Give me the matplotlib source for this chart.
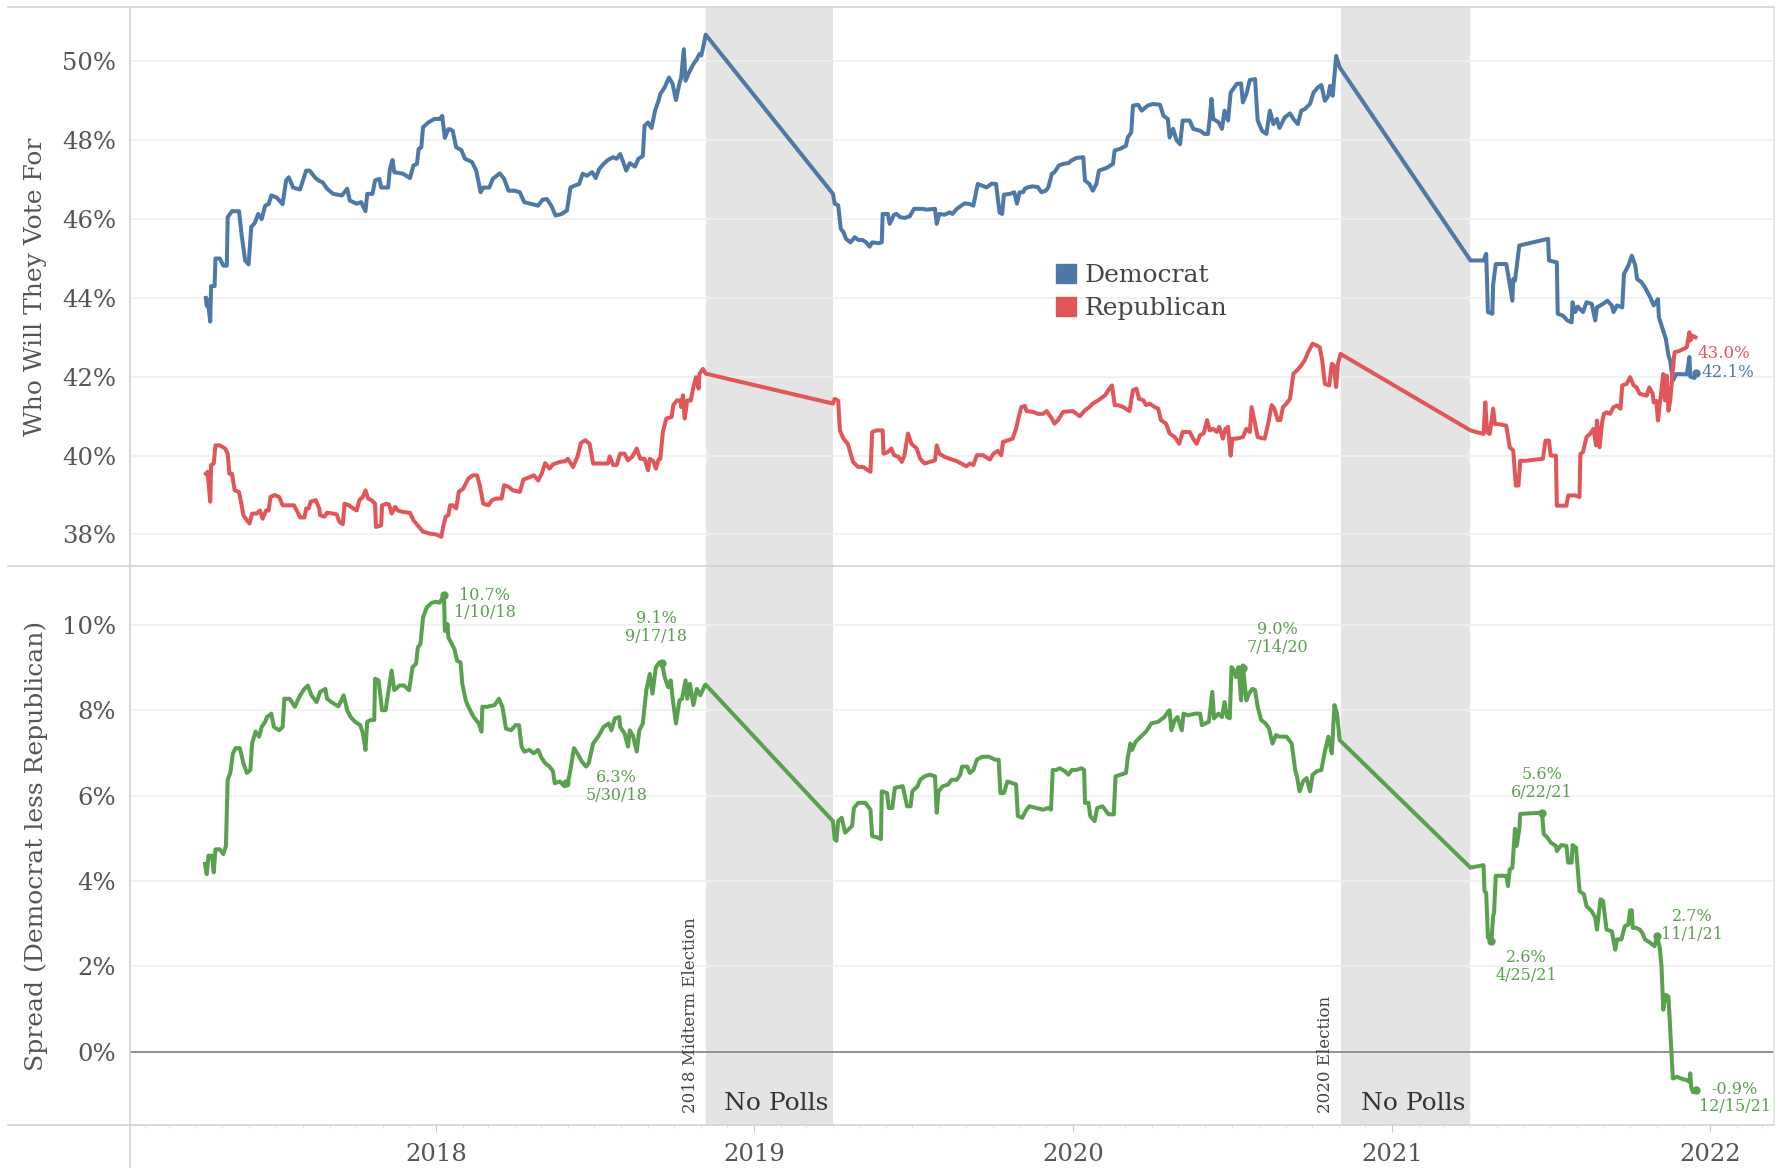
import matplotlib
matplotlib.use("Agg")
import matplotlib.pyplot as plt
import matplotlib.dates as mdates
from matplotlib.lines import Line2D
from matplotlib.patches import Patch
import pandas as pd

# poll averages (date, percent)
dem_polls = [
    ("2017-04-12", 44.0), ("2017-04-13", 43.8), ("2017-04-14", 43.95), ("2017-04-17", 43.4), ("2017-04-18", 44.3),
    ("2017-04-22", 44.3), ("2017-04-23", 45.0), ("2017-04-28", 45.0), ("2017-05-02", 44.82), ("2017-05-06", 44.82),
    ("2017-05-07", 46.05), ("2017-05-12", 46.2), ("2017-05-20", 46.2), ("2017-05-23", 45.6), ("2017-05-27", 44.95),
    ("2017-05-31", 44.85), ("2017-06-03", 45.8), ("2017-06-07", 45.9), ("2017-06-11", 46.13), ("2017-06-15", 46.0),
    ("2017-06-19", 46.34), ("2017-06-23", 46.38), ("2017-06-26", 46.6), ("2017-07-02", 46.55), ("2017-07-09", 46.38),
    ("2017-07-13", 46.98), ("2017-07-16", 47.06), ("2017-07-21", 46.8), ("2017-07-29", 46.75), ("2017-08-05", 47.23),
    ("2017-08-09", 47.23), ("2017-08-15", 47.06), ("2017-08-19", 46.98), ("2017-08-24", 46.93), ("2017-08-29", 46.77),
    ("2017-09-05", 46.64), ("2017-09-15", 46.6), ("2017-09-21", 46.77), ("2017-09-24", 46.47), ("2017-10-02", 46.39),
    ("2017-10-07", 46.43), ("2017-10-12", 46.2), ("2017-10-14", 46.64), ("2017-10-20", 46.64), ("2017-10-23", 46.98),
    ("2017-10-28", 47.02), ("2017-10-30", 46.8), ("2017-11-07", 46.8), ("2017-11-09", 47.27), ("2017-11-12", 47.5),
    ("2017-11-14", 47.19), ("2017-11-24", 47.15), ("2017-12-02", 47.04), ("2017-12-06", 47.36), ("2017-12-10", 47.4),
    ("2017-12-12", 47.78), ("2017-12-15", 47.82), ("2017-12-17", 48.33), ("2017-12-23", 48.45), ("2017-12-30", 48.54),
    ("2018-01-05", 48.54), ("2018-01-08", 48.62), ("2018-01-11", 48.06), ("2018-01-15", 48.28), ("2018-01-17", 48.28),
    ("2018-01-20", 48.24), ("2018-01-24", 47.82), ("2018-01-30", 47.75), ("2018-02-03", 47.53), ("2018-02-11", 47.45),
    ("2018-02-16", 47.23), ("2018-02-21", 46.68), ("2018-02-24", 46.8), ("2018-03-03", 46.8), ("2018-03-07", 47.02),
    ("2018-03-15", 47.16), ("2018-03-20", 47.02), ("2018-03-25", 46.72), ("2018-04-01", 46.72), ("2018-04-07", 46.68),
    ("2018-04-12", 46.43), ("2018-04-19", 46.39), ("2018-04-28", 46.34), ("2018-05-03", 46.49), ("2018-05-08", 46.51),
    ("2018-05-13", 46.34), ("2018-05-18", 46.09), ("2018-05-25", 46.13), ("2018-05-31", 46.22), ("2018-06-04", 46.8),
    ("2018-06-09", 46.85), ("2018-06-14", 46.89), ("2018-06-18", 47.15), ("2018-06-23", 47.1), ("2018-06-29", 47.19),
    ("2018-07-03", 47.04), ("2018-07-07", 47.27), ("2018-07-12", 47.4), ("2018-07-17", 47.5), ("2018-07-23", 47.57),
    ("2018-07-27", 47.53), ("2018-07-31", 47.65), ("2018-08-03", 47.48), ("2018-08-07", 47.23), ("2018-08-11", 47.42),
    ("2018-08-17", 47.33), ("2018-08-21", 47.53), ("2018-08-26", 47.6), ("2018-08-28", 48.37), ("2018-09-01", 48.45),
    ("2018-09-05", 48.31), ("2018-09-09", 48.75), ("2018-09-13", 49.0), ("2018-09-15", 49.17), ("2018-09-20", 49.34),
    ("2018-09-25", 49.59), ("2018-09-29", 49.44), ("2018-10-03", 49.02), ("2018-10-07", 49.44), ("2018-10-09", 49.59),
    ("2018-10-12", 50.31), ("2018-10-14", 49.51), ("2018-10-18", 49.72), ("2018-10-23", 49.93), ("2018-10-27", 50.06),
    ("2018-10-30", 50.19), ("2018-11-01", 50.15), ("2018-11-04", 50.44), ("2018-11-06", 50.68),
    ("2019-04-01", 46.64), ("2019-04-03", 46.39), ("2019-04-07", 46.35), ("2019-04-10", 45.75), ("2019-04-13", 45.67),
    ("2019-04-16", 45.5), ("2019-04-21", 45.41), ("2019-04-26", 45.54), ("2019-04-30", 45.47), ("2019-05-05", 45.47),
    ("2019-05-09", 45.41), ("2019-05-13", 45.3), ("2019-05-16", 45.41), ("2019-05-23", 45.39), ("2019-05-27", 45.41),
    ("2019-05-28", 46.13), ("2019-06-03", 46.13), ("2019-06-05", 45.88), ("2019-06-10", 46.11), ("2019-06-13", 46.13),
    ("2019-06-17", 46.05), ("2019-06-22", 46.03), ("2019-06-28", 46.07), ("2019-07-03", 46.26), ("2019-07-08", 46.26),
    ("2019-07-13", 46.26), ("2019-07-17", 46.24), ("2019-07-27", 46.26), ("2019-07-29", 45.88), ("2019-08-01", 46.13),
    ("2019-08-07", 46.11), ("2019-08-13", 46.17), ("2019-08-16", 46.13), ("2019-08-21", 46.26), ("2019-08-26", 46.34),
    ("2019-08-30", 46.4), ("2019-09-05", 46.38), ("2019-09-09", 46.34), ("2019-09-14", 46.89), ("2019-09-19", 46.85),
    ("2019-09-24", 46.8), ("2019-09-30", 46.9), ("2019-10-05", 46.89), ("2019-10-09", 46.17), ("2019-10-12", 46.13),
    ("2019-10-14", 46.62), ("2019-10-21", 46.64), ("2019-10-26", 46.68), ("2019-10-29", 46.39), ("2019-11-01", 46.68),
    ("2019-11-05", 46.68), ("2019-11-07", 46.77), ("2019-11-11", 46.81), ("2019-11-16", 46.83), ("2019-11-22", 46.81),
    ("2019-11-26", 46.68), ("2019-12-01", 46.72), ("2019-12-04", 46.81), ("2019-12-08", 47.15), ("2019-12-11", 47.19),
    ("2019-12-16", 47.36), ("2019-12-21", 47.4), ("2019-12-27", 47.42), ("2019-12-30", 47.48), ("2020-01-05", 47.55),
    ("2020-01-13", 47.57), ("2020-01-15", 46.98), ("2020-01-20", 46.89), ("2020-01-24", 46.72), ("2020-01-28", 46.89),
    ("2020-01-31", 47.23), ("2020-02-09", 47.3), ("2020-02-16", 47.4), ("2020-02-18", 47.74), ("2020-02-24", 47.78),
    ("2020-03-02", 47.86), ("2020-03-04", 48.07), ("2020-03-08", 48.2), ("2020-03-10", 48.88), ("2020-03-16", 48.9),
    ("2020-03-20", 48.75), ("2020-03-27", 48.88), ("2020-04-02", 48.92), ("2020-04-10", 48.9), ("2020-04-14", 48.62),
    ("2020-04-19", 48.54), ("2020-04-21", 48.07), ("2020-04-25", 48.29), ("2020-04-29", 48.0), ("2020-05-03", 47.9),
    ("2020-05-06", 48.5), ("2020-05-14", 48.5), ("2020-05-18", 48.29), ("2020-05-26", 48.24), ("2020-05-31", 48.16),
    ("2020-06-04", 48.16), ("2020-06-06", 48.54), ("2020-06-08", 49.05), ("2020-06-10", 48.54), ("2020-06-16", 48.46),
    ("2020-06-20", 48.29), ("2020-06-23", 48.75), ("2020-06-27", 48.5), ("2020-06-30", 49.21), ("2020-07-07", 49.43),
    ("2020-07-12", 49.44), ("2020-07-14", 48.96), ("2020-07-18", 49.17), ("2020-07-22", 49.53), ("2020-07-28", 49.55),
    ("2020-07-31", 48.5), ("2020-08-05", 48.24), ("2020-08-10", 48.16), ("2020-08-14", 48.75), ("2020-08-18", 48.41),
    ("2020-08-22", 48.54), ("2020-08-25", 48.31), ("2020-08-31", 48.58), ("2020-09-06", 48.68), ("2020-09-10", 48.54),
    ("2020-09-15", 48.41), ("2020-09-19", 48.75), ("2020-09-23", 48.79), ("2020-09-29", 48.92), ("2020-10-03", 49.21),
    ("2020-10-08", 49.34), ("2020-10-12", 49.4), ("2020-10-16", 49.0), ("2020-10-20", 49.13), ("2020-10-22", 49.38),
    ("2020-10-25", 49.13), ("2020-10-29", 50.14), ("2020-11-02", 49.85),
    ("2021-04-01", 44.95), ("2021-04-16", 44.95), ("2021-04-19", 45.12), ("2021-04-21", 43.64), ("2021-04-26", 43.6),
    ("2021-04-27", 44.35), ("2021-04-30", 44.86), ("2021-05-12", 44.86), ("2021-05-15", 44.48), ("2021-05-19", 43.93),
    ("2021-05-20", 44.48), ("2021-05-22", 44.44), ("2021-05-27", 45.33), ("2021-06-29", 45.5), ("2021-06-30", 44.95),
    ("2021-07-09", 44.9), ("2021-07-10", 43.6), ("2021-07-16", 43.55), ("2021-07-21", 43.43), ("2021-07-26", 43.38),
    ("2021-07-27", 43.89), ("2021-07-30", 43.64), ("2021-08-02", 43.78), ("2021-08-08", 43.64), ("2021-08-12", 43.89),
    ("2021-08-18", 43.85), ("2021-08-22", 43.43), ("2021-08-24", 43.76), ("2021-08-31", 43.85), ("2021-09-05", 43.93),
    ("2021-09-10", 43.81), ("2021-09-12", 43.64), ("2021-09-16", 43.81), ("2021-09-22", 43.76), ("2021-09-24", 44.61),
    ("2021-09-29", 44.82), ("2021-10-03", 45.07), ("2021-10-07", 44.82), ("2021-10-09", 44.48), ("2021-10-14", 44.4),
    ("2021-10-18", 44.27), ("2021-10-24", 44.02), ("2021-10-28", 43.81), ("2021-11-02", 43.97), ("2021-11-03", 43.51),
    ("2021-11-08", 43.17), ("2021-11-11", 42.96), ("2021-11-14", 42.54), ("2021-11-16", 42.41), ("2021-11-19", 41.9),
    ("2021-11-23", 42.07), ("2021-12-05", 42.06), ("2021-12-08", 42.5), ("2021-12-09", 42.0), ("2021-12-14", 41.97),
    ("2021-12-15", 42.1),
]

rep_polls = [
    ("2017-04-12", 39.54), ("2017-04-14", 39.59), ("2017-04-17", 38.83), ("2017-04-18", 39.76), ("2017-04-21", 39.8),
    ("2017-04-23", 40.26), ("2017-04-28", 40.26), ("2017-05-04", 40.18), ("2017-05-07", 40.05), ("2017-05-09", 39.54),
    ("2017-05-12", 39.54), ("2017-05-15", 39.12), ("2017-05-20", 39.08), ("2017-05-23", 38.74), ("2017-05-25", 38.49),
    ("2017-05-29", 38.36), ("2017-06-01", 38.28), ("2017-06-04", 38.53), ("2017-06-09", 38.53), ("2017-06-13", 38.61),
    ("2017-06-16", 38.4), ("2017-06-20", 38.61), ("2017-06-23", 38.61), ("2017-06-25", 38.95), ("2017-06-30", 39.0),
    ("2017-07-05", 38.95), ("2017-07-09", 38.74), ("2017-07-17", 38.74), ("2017-07-22", 38.74), ("2017-07-27", 38.53),
    ("2017-07-29", 38.43), ("2017-08-03", 38.43), ("2017-08-05", 38.66), ("2017-08-08", 38.66), ("2017-08-10", 38.83),
    ("2017-08-16", 38.87), ("2017-08-20", 38.66), ("2017-08-21", 38.49), ("2017-08-26", 38.45), ("2017-08-29", 38.55),
    ("2017-09-05", 38.53), ("2017-09-09", 38.51), ("2017-09-12", 38.32), ("2017-09-16", 38.26), ("2017-09-18", 38.78),
    ("2017-09-23", 38.74), ("2017-09-28", 38.66), ("2017-10-02", 38.61), ("2017-10-05", 38.87), ("2017-10-09", 38.95),
    ("2017-10-12", 39.12), ("2017-10-15", 38.91), ("2017-10-19", 38.87), ("2017-10-23", 38.78), ("2017-10-24", 38.19),
    ("2017-10-30", 38.23), ("2017-10-31", 38.74), ("2017-11-05", 38.78), ("2017-11-08", 38.76), ("2017-11-11", 38.53),
    ("2017-11-15", 38.7), ("2017-11-18", 38.61), ("2017-11-24", 38.57), ("2017-12-02", 38.55), ("2017-12-06", 38.36),
    ("2017-12-11", 38.23), ("2017-12-17", 38.07), ("2017-12-25", 38.02), ("2018-01-01", 38.0), ("2018-01-07", 37.94),
    ("2018-01-09", 38.19), ("2018-01-12", 38.45), ("2018-01-15", 38.49), ("2018-01-17", 38.74), ("2018-01-20", 38.74),
    ("2018-01-24", 38.66), ("2018-01-27", 39.08), ("2018-02-01", 39.16), ("2018-02-07", 39.42), ("2018-02-12", 39.5),
    ("2018-02-17", 39.5), ("2018-02-20", 39.25), ("2018-02-24", 38.78), ("2018-03-02", 38.74), ("2018-03-06", 38.87),
    ("2018-03-11", 38.91), ("2018-03-17", 38.91), ("2018-03-20", 39.25), ("2018-03-25", 39.21), ("2018-03-30", 39.12),
    ("2018-04-07", 39.08), ("2018-04-11", 39.39), ("2018-04-19", 39.46), ("2018-04-23", 39.5), ("2018-04-28", 39.37),
    ("2018-05-02", 39.54), ("2018-05-06", 39.81), ("2018-05-11", 39.67), ("2018-05-15", 39.78), ("2018-05-23", 39.84),
    ("2018-05-29", 39.86), ("2018-06-01", 39.92), ("2018-06-07", 39.71), ("2018-06-12", 39.97), ("2018-06-16", 40.32),
    ("2018-06-21", 40.39), ("2018-06-26", 40.3), ("2018-06-30", 39.8), ("2018-07-06", 39.8), ("2018-07-12", 39.8),
    ("2018-07-17", 39.8), ("2018-07-19", 39.98), ("2018-07-23", 39.76), ("2018-07-27", 39.76), ("2018-07-31", 40.05),
    ("2018-08-05", 40.05), ("2018-08-09", 39.88), ("2018-08-14", 39.98), ("2018-08-19", 40.18), ("2018-08-23", 39.92),
    ("2018-08-28", 39.92), ("2018-09-01", 39.63), ("2018-09-03", 39.92), ("2018-09-07", 39.86), ("2018-09-10", 39.67),
    ("2018-09-13", 39.9), ("2018-09-15", 39.92), ("2018-09-18", 40.6), ("2018-09-22", 40.94), ("2018-09-28", 40.98),
    ("2018-09-30", 41.28), ("2018-10-04", 41.4), ("2018-10-08", 41.4), ("2018-10-09", 41.23), ("2018-10-11", 41.53),
    ("2018-10-13", 40.94), ("2018-10-16", 41.4), ("2018-10-20", 41.4), ("2018-10-23", 41.74), ("2018-10-26", 41.99),
    ("2018-10-29", 41.7), ("2018-10-30", 42.08), ("2018-11-03", 42.2), ("2018-11-06", 42.08),
    ("2019-04-01", 41.32), ("2019-04-03", 41.44), ("2019-04-07", 41.39), ("2019-04-09", 40.64), ("2019-04-13", 40.43),
    ("2019-04-18", 40.3), ("2019-04-24", 39.84), ("2019-04-30", 39.71), ("2019-05-06", 39.71), ("2019-05-11", 39.63),
    ("2019-05-14", 39.59), ("2019-05-16", 40.6), ("2019-05-21", 40.64), ("2019-05-28", 40.64), ("2019-05-29", 40.05),
    ("2019-06-03", 40.09), ("2019-06-07", 40.18), ("2019-06-10", 40.01), ("2019-06-15", 39.97), ("2019-06-19", 39.84),
    ("2019-06-22", 40.01), ("2019-06-26", 40.56), ("2019-06-30", 40.3), ("2019-07-06", 40.18), ("2019-07-10", 39.92),
    ("2019-07-15", 39.8), ("2019-07-21", 39.84), ("2019-07-27", 39.88), ("2019-07-29", 40.26), ("2019-08-01", 40.05),
    ("2019-08-07", 39.97), ("2019-08-13", 39.92), ("2019-08-21", 39.86), ("2019-08-26", 39.8), ("2019-09-01", 39.73),
    ("2019-09-05", 39.8), ("2019-09-09", 39.76), ("2019-09-13", 40.01), ("2019-09-20", 40.01), ("2019-09-28", 39.9),
    ("2019-10-02", 40.05), ("2019-10-07", 40.12), ("2019-10-11", 40.01), ("2019-10-13", 40.35), ("2019-10-19", 40.39),
    ("2019-10-24", 40.43), ("2019-10-28", 40.69), ("2019-10-31", 40.98), ("2019-11-03", 41.23), ("2019-11-07", 41.26),
    ("2019-11-09", 41.13), ("2019-11-16", 41.11), ("2019-11-22", 41.06), ("2019-11-28", 41.06), ("2019-12-02", 41.13),
    ("2019-12-08", 40.94), ("2019-12-11", 40.81), ("2019-12-15", 40.9), ("2019-12-21", 41.11), ("2020-01-01", 41.13),
    ("2020-01-09", 41.0), ("2020-01-15", 41.15), ("2020-01-20", 41.23), ("2020-01-24", 41.32), ("2020-01-30", 41.4),
    ("2020-02-07", 41.53), ("2020-02-12", 41.7), ("2020-02-15", 41.78), ("2020-02-18", 41.28), ("2020-02-22", 41.28),
    ("2020-02-28", 41.23), ("2020-03-06", 41.13), ("2020-03-10", 41.66), ("2020-03-14", 41.7), ("2020-03-17", 41.44),
    ("2020-03-22", 41.4), ("2020-03-25", 41.28), ("2020-03-29", 41.32), ("2020-04-04", 41.23), ("2020-04-08", 41.19),
    ("2020-04-11", 40.9), ("2020-04-17", 40.81), ("2020-04-21", 40.56), ("2020-04-27", 40.47), ("2020-05-02", 40.3),
    ("2020-05-06", 40.6), ("2020-05-14", 40.6), ("2020-05-18", 40.43), ("2020-05-22", 40.3), ("2020-05-26", 40.52),
    ("2020-05-30", 40.56), ("2020-06-03", 40.9), ("2020-06-06", 40.64), ("2020-06-10", 40.68), ("2020-06-14", 40.6),
    ("2020-06-17", 40.73), ("2020-06-21", 40.43), ("2020-06-24", 40.68), ("2020-06-27", 40.73), ("2020-06-30", 40.0),
    ("2020-07-02", 40.43), ("2020-07-07", 40.43), ("2020-07-14", 40.47), ("2020-07-18", 40.68), ("2020-07-22", 40.6),
    ("2020-07-24", 41.23), ("2020-07-28", 40.81), ("2020-07-31", 40.47), ("2020-08-08", 40.43), ("2020-08-12", 40.81),
    ("2020-08-16", 41.28), ("2020-08-19", 41.2), ("2020-08-23", 40.9), ("2020-08-26", 40.9), ("2020-08-29", 41.23),
    ("2020-09-02", 41.32), ("2020-09-06", 41.44), ("2020-09-10", 42.08), ("2020-09-14", 42.16), ("2020-09-19", 42.29),
    ("2020-09-23", 42.42), ("2020-09-27", 42.63), ("2020-10-02", 42.84), ("2020-10-06", 42.8), ("2020-10-10", 42.75),
    ("2020-10-13", 42.42), ("2020-10-16", 41.82), ("2020-10-21", 41.78), ("2020-10-24", 42.33), ("2020-10-26", 42.3),
    ("2020-10-29", 41.74), ("2020-10-31", 42.33), ("2020-11-03", 42.58),
    ("2021-04-01", 40.64), ("2021-04-16", 40.55), ("2021-04-18", 41.35), ("2021-04-20", 40.6), ("2021-04-23", 40.55),
    ("2021-04-27", 41.19), ("2021-04-29", 40.8), ("2021-05-03", 40.8), ("2021-05-12", 40.76), ("2021-05-16", 40.21),
    ("2021-05-20", 40.13), ("2021-05-23", 39.24), ("2021-05-26", 39.24), ("2021-05-28", 39.87), ("2021-06-04", 39.87),
    ("2021-06-23", 39.92), ("2021-06-26", 40.38), ("2021-06-30", 40.38), ("2021-07-02", 40.0), ("2021-07-08", 40.0),
    ("2021-07-09", 38.73), ("2021-07-20", 38.73), ("2021-07-22", 38.99), ("2021-07-30", 38.99), ("2021-08-04", 38.95),
    ("2021-08-05", 40.04), ("2021-08-08", 40.09), ("2021-08-12", 40.47), ("2021-08-16", 40.55), ("2021-08-20", 40.68),
    ("2021-08-23", 40.26), ("2021-08-24", 40.89), ("2021-08-27", 40.21), ("2021-08-30", 40.85), ("2021-09-01", 41.06),
    ("2021-09-04", 41.1), ("2021-09-08", 41.06), ("2021-09-12", 41.23), ("2021-09-16", 41.27), ("2021-09-20", 41.19),
    ("2021-09-22", 41.78), ("2021-09-27", 41.82), ("2021-10-01", 41.99), ("2021-10-05", 41.78), ("2021-10-08", 41.74),
    ("2021-10-12", 41.57), ("2021-10-20", 41.52), ("2021-10-23", 41.73), ("2021-10-27", 41.57), ("2021-10-28", 41.35),
    ("2021-10-31", 41.39), ("2021-11-02", 40.89), ("2021-11-04", 41.31), ("2021-11-06", 41.65), ("2021-11-08", 42.07),
    ("2021-11-10", 41.4), ("2021-11-12", 42.03), ("2021-11-14", 41.14), ("2021-11-16", 41.4), ("2021-11-20", 42.41),
    ("2021-11-21", 42.62), ("2021-11-27", 42.66), ("2021-12-05", 42.75), ("2021-12-08", 43.13), ("2021-12-09", 42.92),
    ("2021-12-12", 43.04), ("2021-12-15", 43.0),
]

spread_polls = [
    ("2017-04-11", 4.40), ("2017-04-13", 4.16), ("2017-04-15", 4.59), ("2017-04-19", 4.59), ("2017-04-21", 4.2),
    ("2017-04-23", 4.74), ("2017-04-28", 4.74), ("2017-05-02", 4.63), ("2017-05-05", 4.82), ("2017-05-07", 6.37),
    ("2017-05-10", 6.53), ("2017-05-13", 6.99), ("2017-05-16", 7.11), ("2017-05-21", 7.11), ("2017-05-25", 6.76),
    ("2017-05-29", 6.53), ("2017-06-02", 6.6), ("2017-06-04", 7.22), ("2017-06-08", 7.5), ("2017-06-12", 7.38),
    ("2017-06-15", 7.61), ("2017-06-19", 7.73), ("2017-06-21", 7.84), ("2017-06-26", 7.92), ("2017-06-29", 7.61),
    ("2017-07-05", 7.53), ("2017-07-09", 7.61), ("2017-07-11", 8.27), ("2017-07-17", 8.27), ("2017-07-23", 8.08),
    ("2017-07-29", 8.35), ("2017-08-03", 8.5), ("2017-08-07", 8.58), ("2017-08-11", 8.35), ("2017-08-17", 8.19),
    ("2017-08-21", 8.43), ("2017-08-27", 8.5), ("2017-08-29", 8.27), ("2017-09-03", 8.19), ("2017-09-11", 8.09),
    ("2017-09-17", 8.35), ("2017-09-21", 8.0), ("2017-09-25", 7.84), ("2017-09-30", 7.73), ("2017-10-06", 7.65),
    ("2017-10-09", 7.46), ("2017-10-12", 7.07), ("2017-10-14", 7.73), ("2017-10-18", 7.77), ("2017-10-22", 7.77),
    ("2017-10-23", 8.74), ("2017-10-27", 8.7), ("2017-10-31", 8.0), ("2017-11-04", 8.0), ("2017-11-08", 8.54),
    ("2017-11-11", 8.93), ("2017-11-14", 8.47), ("2017-11-20", 8.58), ("2017-11-25", 8.58), ("2017-12-01", 8.47),
    ("2017-12-05", 9.01), ("2017-12-09", 9.09), ("2017-12-11", 9.47), ("2017-12-14", 9.55), ("2017-12-17", 10.17),
    ("2017-12-21", 10.4), ("2017-12-27", 10.52), ("2018-01-01", 10.54), ("2018-01-05", 10.52), ("2018-01-10", 10.7),
    ("2018-01-11", 9.86), ("2018-01-13", 9.86), ("2018-01-14", 10.02), ("2018-01-15", 9.71), ("2018-01-19", 9.55),
    ("2018-01-22", 9.43), ("2018-01-25", 9.16), ("2018-01-29", 9.12), ("2018-01-31", 8.62), ("2018-02-04", 8.23),
    ("2018-02-07", 8.08), ("2018-02-13", 7.84), ("2018-02-19", 7.69), ("2018-02-22", 7.5), ("2018-02-23", 8.08),
    ("2018-02-28", 8.08), ("2018-03-09", 8.12), ("2018-03-14", 8.27), ("2018-03-18", 8.08), ("2018-03-22", 7.57),
    ("2018-03-28", 7.53), ("2018-04-02", 7.65), ("2018-04-06", 7.65), ("2018-04-09", 7.15), ("2018-04-12", 7.03),
    ("2018-04-18", 7.07), ("2018-04-23", 6.99), ("2018-04-28", 7.07), ("2018-05-02", 6.88), ("2018-05-06", 6.76),
    ("2018-05-11", 6.68), ("2018-05-15", 6.57), ("2018-05-17", 6.29), ("2018-05-23", 6.33), ("2018-05-28", 6.22),
    ("2018-05-30", 6.3), ("2018-06-01", 6.29), ("2018-06-04", 6.6), ("2018-06-08", 7.11), ("2018-06-12", 6.99),
    ("2018-06-17", 6.8), ("2018-06-22", 6.68), ("2018-06-25", 6.76), ("2018-06-28", 7.03), ("2018-06-30", 7.22),
    ("2018-07-07", 7.42), ("2018-07-12", 7.61), ("2018-07-18", 7.69), ("2018-07-21", 7.53), ("2018-07-25", 7.81),
    ("2018-07-30", 7.84), ("2018-07-31", 7.61), ("2018-08-05", 7.46), ("2018-08-09", 7.15), ("2018-08-11", 7.53),
    ("2018-08-15", 7.38), ("2018-08-19", 7.03), ("2018-08-22", 7.53), ("2018-08-26", 7.69), ("2018-08-30", 8.47),
    ("2018-09-03", 8.85), ("2018-09-06", 8.39), ("2018-09-10", 9.01), ("2018-09-14", 9.12), ("2018-09-17", 9.1),
    ("2018-09-20", 8.78), ("2018-09-24", 8.54), ("2018-09-27", 8.7), ("2018-09-29", 8.31), ("2018-10-03", 7.69),
    ("2018-10-07", 8.23), ("2018-10-10", 8.27), ("2018-10-14", 8.7), ("2018-10-16", 8.27), ("2018-10-19", 8.62),
    ("2018-10-23", 8.12), ("2018-10-27", 8.5), ("2018-10-31", 8.35), ("2018-11-05", 8.58), ("2018-11-06", 8.6),
    ("2019-04-01", 5.4), ("2019-04-03", 4.98), ("2019-04-05", 4.94), ("2019-04-07", 5.4), ("2019-04-11", 5.48),
    ("2019-04-15", 5.13), ("2019-04-19", 5.21), ("2019-04-23", 5.29), ("2019-04-25", 5.71), ("2019-04-30", 5.83),
    ("2019-05-08", 5.83), ("2019-05-14", 5.67), ("2019-05-16", 5.05), ("2019-05-22", 5.02), ("2019-05-26", 4.98),
    ("2019-05-27", 6.1), ("2019-06-02", 6.06), ("2019-06-04", 5.71), ("2019-06-08", 5.71), ("2019-06-11", 6.18),
    ("2019-06-20", 6.22), ("2019-06-25", 5.75), ("2019-06-29", 5.75), ("2019-07-01", 6.1), ("2019-07-07", 6.22),
    ("2019-07-10", 6.37), ("2019-07-15", 6.45), ("2019-07-21", 6.49), ("2019-07-27", 6.45), ("2019-07-29", 5.6),
    ("2019-07-31", 6.1), ("2019-08-05", 6.22), ("2019-08-11", 6.26), ("2019-08-15", 6.37), ("2019-08-21", 6.37),
    ("2019-08-25", 6.49), ("2019-08-27", 6.68), ("2019-09-02", 6.68), ("2019-09-05", 6.53), ("2019-09-09", 6.6),
    ("2019-09-13", 6.84), ("2019-09-19", 6.91), ("2019-09-27", 6.91), ("2019-09-30", 6.88), ("2019-10-04", 6.84),
    ("2019-10-08", 6.84), ("2019-10-10", 6.06), ("2019-10-14", 6.06), ("2019-10-18", 6.33), ("2019-10-24", 6.29),
    ("2019-10-28", 6.26), ("2019-10-30", 5.52), ("2019-11-04", 5.48), ("2019-11-08", 5.64), ("2019-11-12", 5.75),
    ("2019-11-20", 5.71), ("2019-11-28", 5.67), ("2019-12-04", 5.71), ("2019-12-07", 5.67), ("2019-12-09", 6.6),
    ("2019-12-13", 6.6), ("2019-12-17", 6.64), ("2019-12-23", 6.57), ("2019-12-27", 6.49), ("2019-12-31", 6.6),
    ("2020-01-05", 6.6), ("2020-01-11", 6.64), ("2020-01-14", 6.6), ("2020-01-15", 5.83), ("2020-01-19", 5.83),
    ("2020-01-21", 5.52), ("2020-01-26", 5.4), ("2020-01-29", 5.71), ("2020-02-04", 5.75), ("2020-02-07", 5.67),
    ("2020-02-11", 5.56), ("2020-02-17", 5.56), ("2020-02-19", 6.45), ("2020-02-25", 6.49), ("2020-03-02", 6.53),
    ("2020-03-04", 6.88), ("2020-03-07", 7.22), ("2020-03-09", 7.07), ("2020-03-13", 7.26), ("2020-03-19", 7.38),
    ("2020-03-25", 7.5), ("2020-03-31", 7.69), ("2020-04-08", 7.73), ("2020-04-15", 7.84), ("2020-04-19", 7.96),
    ("2020-04-21", 8.0), ("2020-04-23", 7.53), ("2020-04-27", 7.77), ("2020-04-30", 7.84), ("2020-05-05", 7.53),
    ("2020-05-07", 7.92), ("2020-05-12", 7.88), ("2020-05-20", 7.92), ("2020-05-26", 7.92), ("2020-05-28", 7.65),
    ("2020-06-05", 7.73), ("2020-06-09", 8.43), ("2020-06-11", 7.81), ("2020-06-16", 7.92), ("2020-06-20", 7.84),
    ("2020-06-23", 8.19), ("2020-06-26", 7.84), ("2020-06-29", 7.81), ("2020-07-01", 9.01), ("2020-07-04", 8.93),
    ("2020-07-06", 8.78), ("2020-07-09", 9.01), ("2020-07-12", 8.23), ("2020-07-14", 9.05), ("2020-07-18", 8.23),
    ("2020-07-21", 8.39), ("2020-07-25", 8.5), ("2020-07-28", 8.47), ("2020-07-31", 8.08), ("2020-08-04", 7.77),
    ("2020-08-09", 7.69), ("2020-08-13", 7.57), ("2020-08-17", 7.22), ("2020-08-21", 7.42), ("2020-08-25", 7.38),
    ("2020-09-02", 7.38), ("2020-09-08", 7.22), ("2020-09-12", 6.6), ("2020-09-14", 6.45), ("2020-09-17", 6.1),
    ("2020-09-21", 6.33), ("2020-09-25", 6.41), ("2020-09-29", 6.1), ("2020-10-02", 6.49), ("2020-10-07", 6.57),
    ("2020-10-12", 6.6), ("2020-10-16", 7.03), ("2020-10-20", 7.38), ("2020-10-24", 6.99), ("2020-10-27", 8.12),
    ("2020-10-30", 7.92), ("2020-11-02", 7.3),
    ("2021-04-01", 4.31), ("2021-04-16", 4.37), ("2021-04-17", 3.76), ("2021-04-19", 3.72), ("2021-04-21", 2.67),
    ("2021-04-25", 2.6), ("2021-04-27", 3.18), ("2021-04-28", 3.25), ("2021-04-30", 4.12), ("2021-05-12", 4.12),
    ("2021-05-14", 3.88), ("2021-05-16", 4.27), ("2021-05-19", 4.31), ("2021-05-22", 5.22), ("2021-05-24", 4.82),
    ("2021-05-27", 5.22), ("2021-05-28", 5.57), ("2021-06-22", 5.6), ("2021-06-24", 5.1), ("2021-06-28", 5.02),
    ("2021-07-02", 4.9), ("2021-07-08", 4.82), ("2021-07-09", 4.7), ("2021-07-14", 4.84), ("2021-07-20", 4.82),
    ("2021-07-22", 4.43), ("2021-07-26", 4.43), ("2021-07-27", 4.84), ("2021-07-31", 4.78), ("2021-08-04", 3.76),
    ("2021-08-09", 3.69), ("2021-08-12", 3.41), ("2021-08-18", 3.29), ("2021-08-22", 3.14), ("2021-08-24", 2.86),
    ("2021-08-28", 3.57), ("2021-08-31", 3.53), ("2021-09-04", 2.86), ("2021-09-10", 2.82), ("2021-09-14", 2.39),
    ("2021-09-16", 2.63), ("2021-09-21", 2.63), ("2021-09-25", 2.94), ("2021-09-29", 2.98), ("2021-10-01", 3.31),
    ("2021-10-03", 3.31), ("2021-10-04", 2.9), ("2021-10-08", 2.9), ("2021-10-12", 2.86), ("2021-10-15", 2.78),
    ("2021-10-18", 2.63), ("2021-10-24", 2.55), ("2021-10-29", 2.47), ("2021-11-01", 2.7), ("2021-11-04", 2.43),
    ("2021-11-06", 2.0), ("2021-11-08", 0.98), ("2021-11-11", 1.33), ("2021-11-14", 1.29), ("2021-11-17", 0.12),
    ("2021-11-19", -0.63), ("2021-11-24", -0.59), ("2021-11-28", -0.63), ("2021-12-05", -0.67), ("2021-12-08", -0.71),
    ("2021-12-09", -0.51), ("2021-12-10", -0.82), ("2021-12-12", -0.95), ("2021-12-15", -0.9),
]

# labelled highs / lows on the spread
spread_notes = [
    ("2018-01-10", 10.7, "10.7%\n1/10/18"),
    ("2018-09-17", 9.1, "9.1%\n9/17/18"),
    ("2018-05-30", 6.3, "6.3%\n5/30/18"),
    ("2020-07-14", 9.0, "9.0%\n7/14/20"),
    ("2021-06-22", 5.6, "5.6%\n6/22/21"),
    ("2021-04-25", 2.6, "2.6%\n4/25/21"),
    ("2021-11-01", 2.7, "2.7%\n11/1/21"),
    ("2021-12-15", -0.9, "-0.9%\n12/15/21"),
]
# label offsets in pixels (right, down)
note_offsets = [(41, 9), (-6, -36), (50, 4), (35, -29), (0, -29), (35, 26), (35, -11), (39, 8)]

no_poll_periods = [("2018-11-06", "2019-04-01"), ("2020-11-03", "2021-04-01")]
election_labels = ["2018 Midterm Election", "2020 Election"]

BLUE, RED, GREEN = "#4e79a7", "#e15759", "#59a14f"
W, H = 1781, 1168
PT = 0.72  # points per pixel at dpi 100

plt.rcParams["font.family"] = ["DejaVu Serif"]

dem = pd.DataFrame(dem_polls, columns=["date", "pct"])
rep = pd.DataFrame(rep_polls, columns=["date", "pct"])
spread = pd.DataFrame(spread_polls, columns=["date", "pct"])
for df in (dem, rep, spread):
    df["date"] = pd.to_datetime(df["date"])

fig = plt.figure(figsize=(W / 100, H / 100), dpi=100)
L, R, T, MID, B = 130, 1774, 7, 566, 1125
ax_top = fig.add_axes([L / W, 1 - MID / H, (R - L) / W, (MID - T) / H])
ax_bot = fig.add_axes([L / W, 1 - B / H, (R - L) / W, (B - MID) / H])

x0, x1 = pd.Timestamp("2017-01-15"), pd.Timestamp("2022-03-15")
for ax in (ax_top, ax_bot):
    ax.set_xlim(x0, x1)
    for s in ax.spines.values():
        s.set_visible(False)
    for a, b in no_poll_periods:
        ax.axvspan(pd.Timestamp(a), pd.Timestamp(b), color="#e4e4e4", lw=0, zorder=0)
    ax.set_axisbelow(True)
    ax.yaxis.grid(True, color="#f0f0f0", lw=1.2)
    ax.yaxis.set_major_formatter(lambda v, p: f"{v:.0f}%")
    ax.tick_params(axis="y", length=0, pad=10, labelsize=17.5, labelcolor="#555555")

ax_top.set_ylim(37.2, 51.38)
ax_top.set_yticks(range(38, 51, 2))
ax_top.tick_params(axis="x", which="both", bottom=False, labelbottom=False)

ax_bot.set_ylim(-1.72, 11.38)
ax_bot.set_yticks(range(0, 11, 2))
ax_bot.xaxis.set_major_locator(mdates.YearLocator())
ax_bot.xaxis.set_major_formatter(mdates.DateFormatter("%Y"))
ax_bot.xaxis.set_minor_locator(mdates.MonthLocator())
ax_bot.tick_params(axis="x", which="major", length=5, color="#c8c8c8", pad=8,
                   labelsize=17.5, labelcolor="#555555")
ax_bot.tick_params(axis="x", which="minor", length=2, color="#e0e0e0")
ax_bot.axhline(0, color="#8a8a8a", lw=1.3, zorder=1.5)

ax_top.plot(dem["date"], dem["pct"], color=BLUE, lw=2.9, solid_joinstyle="round")
ax_top.plot(rep["date"], rep["pct"], color=RED, lw=2.9, solid_joinstyle="round")
ax_bot.plot(spread["date"], spread["pct"], color=GREEN, lw=2.9, solid_joinstyle="round")

# end labels on the top pane
last_dem, last_rep = dem.iloc[-1], rep.iloc[-1]
ax_top.plot([last_dem["date"]], [last_dem["pct"]], "o", color=BLUE, ms=5)
ax_top.annotate(f"{last_rep['pct']:.1f}%", (last_rep["date"], last_rep["pct"]), xytext=(2 * PT, -16 * PT),
                textcoords="offset points", color=RED, fontsize=12, ha="left", va="center")
ax_top.annotate(f"{last_dem['pct']:.1f}%", (last_dem["date"], last_dem["pct"]), xytext=(6 * PT, 0),
                textcoords="offset points", color=BLUE, fontsize=12, ha="left", va="center")

for (d, v, txt), (dx, dy) in zip(spread_notes, note_offsets):
    d = pd.Timestamp(d)
    ax_bot.plot([d], [v], "o", color=GREEN, ms=5, zorder=3)
    ax_bot.annotate(txt, (d, v), xytext=(dx * PT, -dy * PT), textcoords="offset points",
                    color=GREEN, fontsize=11.5, ha="center", va="center", linespacing=1.05)

for (a, b), lab in zip(no_poll_periods, election_labels):
    ax_bot.annotate(lab, (pd.Timestamp(a), -1.43), xytext=(-15 * PT, 0), textcoords="offset points",
                    rotation=90, ha="center", va="bottom", fontsize=12, color="#444444")
    ax_bot.annotate("No Polls", (pd.Timestamp(b), -1.22), xytext=(-5 * PT, 0), textcoords="offset points",
                    ha="right", va="center", fontsize=18, color="#333333")

fig.legend(handles=[Patch(color=BLUE, label="Democrat"), Patch(color=RED, label="Republican")],
           loc="upper left", bbox_to_anchor=(1056 / W, 1 - 264 / H), frameon=False, fontsize=18,
           handlelength=0.8, handleheight=0.8, handletextpad=0.35, labelspacing=0.4,
           borderpad=0, borderaxespad=0, labelcolor="#444444")

fig.text(36 / W, 1 - 286.5 / H, "Who Will They Vote For", rotation=90, ha="center", va="center",
         fontsize=18, color="#555555")
fig.text(36 / W, 1 - 845.5 / H, "Spread (Democrat less Republican)", rotation=90, ha="center", va="center",
         fontsize=18, color="#555555")

# pane borders
def hline(y, xa=8, xb=R):
    fig.add_artist(Line2D([xa / W, xb / W], [1 - y / H, 1 - y / H], color="#d0d0d0", lw=1.1))

for y in (T, MID, B):
    hline(y)
fig.add_artist(Line2D([L / W, L / W], [1 - T / H, 0], color="#d0d0d0", lw=1.1))
fig.add_artist(Line2D([R / W, R / W], [1 - T / H, 1 - B / H], color="#e0e0e0", lw=1.1))

fig.savefig("out.png", dpi=100)
